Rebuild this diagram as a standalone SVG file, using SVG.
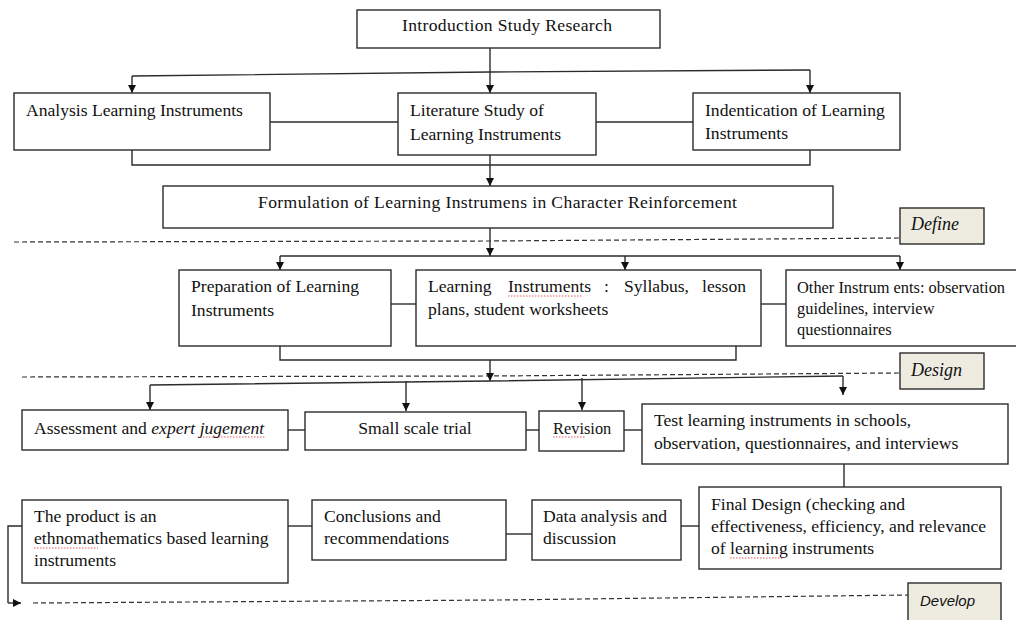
<svg xmlns="http://www.w3.org/2000/svg" width="1016" height="620" viewBox="0 0 1016 620">
  <style>
    .box { fill: #ffffff; stroke: #2b2b2b; stroke-width: 1.4; }
    .tag { fill: #eeece1; stroke: #2b2b2b; stroke-width: 1.4; }
    .t { font-family: "Liberation Serif", "Times New Roman", serif; font-size: 17.6px; fill: #111; }
    .ts { font-family: "Liberation Serif", "Times New Roman", serif; font-size: 16.4px; fill: #111; }
    .ti { font-family: "Liberation Serif", "Times New Roman", serif; font-size: 18px; font-style: italic; fill: #111; }
    .tsans { font-family: "Liberation Sans", Arial, sans-serif; font-size: 15px; font-style: italic; fill: #111; }
    .ln { fill: none; stroke: #2b2b2b; stroke-width: 1.4; }
    .arr { fill: none; stroke: #2b2b2b; stroke-width: 1.4; marker-end: url(#ah); }
    .dash { fill: none; stroke: #333; stroke-width: 1.2; stroke-dasharray: 5 3; }
    .sq { fill: none; stroke: #e03030; stroke-width: 0.8; stroke-dasharray: 1.5 1.5; }
  </style>
  <defs>
    <marker id="ah" viewBox="0 0 10 10" refX="10" refY="5" markerWidth="8" markerHeight="8" markerUnits="userSpaceOnUse" orient="auto">
      <path d="M0,0 L10,5 L0,10 z" fill="#111"/>
    </marker>
  </defs>

  <rect width="1016" height="620" fill="#ffffff"/>

  <!-- connectors -->
  <g id="connectors">
    <!-- intro fan-out -->
    <path class="arr" d="M490,48 V93"/>
    <path class="ln" d="M132,76 L490,72 L810,70"/>
    <path class="arr" d="M132,76 V93"/>
    <path class="arr" d="M810,70 V93"/>
    <path class="ln" d="M270,122 H398"/>
    <path class="ln" d="M596,122 H693"/>
    <path class="ln" d="M132,150 V165 H810 V150"/>
    <path class="arr" d="M490,155 V186"/>

    <!-- define phase -->
    <path class="dash" d="M14,242 L490,241 L900,238"/>
    <path class="arr" d="M490,228 V256"/>
    <path class="ln" d="M280,256 H900"/>
    <path class="arr" d="M280,256 V270"/>
    <path class="arr" d="M625,256 V270"/>
    <path class="arr" d="M900,256 V270"/>
    <path class="ln" d="M391,304 H416"/>
    <path class="ln" d="M761,304 H786"/>
    <path class="ln" d="M280,346 V360 H736 V346"/>

    <!-- design phase -->
    <path class="dash" d="M22,377 L490,376 L900,373"/>
    <path class="arr" d="M490,360 V381"/>
    <path class="ln" d="M150,385 L490,381 L843,376"/>
    <path class="arr" d="M150,385 V410"/>
    <path class="arr" d="M406,381 V411"/>
    <path class="arr" d="M582,378 V410"/>
    <path class="arr" d="M843,376 V395"/>
    <path class="ln" d="M288,430 H305"/>
    <path class="ln" d="M526,430 H539"/>
    <path class="ln" d="M624,430 H642"/>
    <path class="ln" d="M844,464 V487"/>

    <!-- develop phase -->
    <path class="ln" d="M699,526 H681"/>
    <path class="ln" d="M532,534 H506"/>
    <path class="ln" d="M312,526 H288"/>
    <path class="ln" d="M22,526 H8 V603"/>
    <path class="arr" d="M8,603 H21"/>
    <path class="dash" d="M33,603 L500,600 L908,595"/>
  </g>

  <!-- nodes -->
  <g id="intro">
    <rect class="box" x="357" y="10" width="303" height="38"/>
    <text class="t" x="402" y="31" textLength="210" lengthAdjust="spacing">Introduction Study Research</text>
  </g>

  <g id="analysis">
    <rect class="box" x="14" y="93" width="256" height="57"/>
    <text class="t" x="26" y="116">Analysis Learning Instruments</text>
  </g>

  <g id="literature">
    <rect class="box" x="398" y="93" width="198" height="62"/>
    <text class="t" x="410" y="116">Literature Study of</text>
    <text class="t" x="410" y="140">Learning Instruments</text>
  </g>

  <g id="identification">
    <rect class="box" x="693" y="93" width="207" height="57"/>
    <text class="t" x="705" y="116">Indentication of Learning</text>
    <text class="t" x="705" y="139">Instruments</text>
  </g>

  <g id="formulation">
    <rect class="box" x="163" y="186" width="670" height="42"/>
    <text class="t" x="258" y="208" textLength="479" lengthAdjust="spacing">Formulation of Learning Instrumens in Character Reinforcement</text>
  </g>

  <g id="tag-define">
    <rect class="tag" x="900" y="208" width="84" height="36"/>
    <text class="ti" x="911" y="230">Define</text>
  </g>

  <g id="preparation">
    <rect class="box" x="179" y="270" width="212" height="76"/>
    <text class="t" x="191" y="292">Preparation of Learning</text>
    <text class="t" x="191" y="316">Instruments</text>
  </g>

  <g id="learning-instruments">
    <rect class="box" x="416" y="270" width="345" height="76"/>
    <text class="t" y="292"><tspan x="428">Learning</tspan><tspan x="508">Instruments</tspan><tspan x="604">:</tspan><tspan x="624">Syllabus,</tspan><tspan x="702">lesson</tspan></text>
    <path class="sq" d="M508,296 h74"/>
    <text class="t" x="428" y="315">plans, student worksheets</text>
  </g>

  <g id="other-instruments">
    <rect class="box" x="786" y="270" width="240" height="76"/>
    <text class="ts" x="797" y="293">Other Instrum ents: observation</text>
    <text class="ts" x="797" y="314">guidelines, interview</text>
    <text class="ts" x="797" y="335">questionnaires</text>
  </g>

  <g id="tag-design">
    <rect class="tag" x="900" y="353" width="84" height="36"/>
    <text class="ti" x="911" y="376">Design</text>
  </g>

  <g id="assessment">
    <rect class="box" x="22" y="410" width="266" height="40"/>
    <text class="t" x="34" y="434">Assessment and <tspan font-style="italic">expert jugement</tspan></text>
    <path class="sq" d="M200,437 h65"/>
  </g>

  <g id="small-trial">
    <rect class="box" x="305" y="412" width="221" height="38"/>
    <text class="t" x="415" y="434" text-anchor="middle">Small scale trial</text>
  </g>

  <g id="revision">
    <rect class="box" x="539" y="411" width="85" height="40"/>
    <text class="ts" x="553" y="434">Revision</text>
    <path class="sq" d="M553,437 h32"/>
  </g>

  <g id="test">
    <rect class="box" x="642" y="404" width="366" height="60"/>
    <text class="t" x="654" y="426">Test learning instruments in schools,</text>
    <text class="t" x="654" y="449">observation, questionnaires, and interviews</text>
  </g>

  <g id="final-design">
    <rect class="box" x="699" y="487" width="302" height="82"/>
    <text class="t" x="711" y="510">Final Design (checking and</text>
    <text class="t" x="711" y="532">effectiveness, efficiency, and relevance</text>
    <text class="t" x="711" y="554">of learning instruments</text>
    <path class="sq" d="M730,558 h53"/>
  </g>

  <g id="data-analysis">
    <rect class="box" x="532" y="500" width="149" height="60"/>
    <text class="t" x="543" y="522">Data analysis and</text>
    <text class="t" x="543" y="544">discussion</text>
  </g>

  <g id="conclusions">
    <rect class="box" x="312" y="500" width="194" height="60"/>
    <text class="t" x="324" y="522">Conclusions and</text>
    <text class="t" x="324" y="544">recommendations</text>
  </g>

  <g id="product">
    <rect class="box" x="22" y="500" width="266" height="83"/>
    <text class="t" x="34" y="522">The product is an</text>
    <text class="t" x="34" y="544">ethnomathematics based learning</text>
    <path class="sq" d="M34,548 h64"/>
    <text class="t" x="34" y="566">instruments</text>
  </g>

  <g id="tag-develop">
    <rect class="tag" x="908" y="583" width="93" height="42"/>
    <text class="tsans" x="920" y="606">Develop</text>
  </g>
</svg>
